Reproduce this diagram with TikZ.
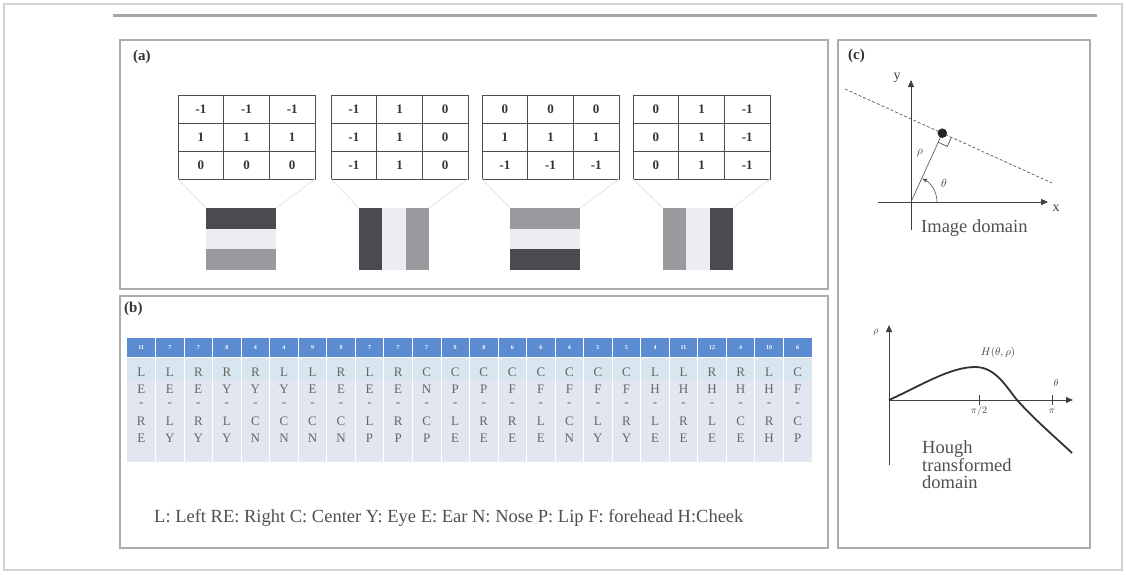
\documentclass[tikz,border=0pt]{standalone}
\usepackage{fontspec}
\setmainfont{Liberation Serif}
\usetikzlibrary{arrows.meta}
\definecolor{hdr}{HTML}{5B8BD0}
\definecolor{rowa}{HTML}{D8E7EF}
\definecolor{rowb}{HTML}{E2E6F1}
\definecolor{txt}{HTML}{505050}
\definecolor{dk}{HTML}{4A4A50}
\definecolor{md}{HTML}{9A9A9E}
\definecolor{lt}{HTML}{ECECF2}
\newcommand\kmat[5]{%
  \draw[gridln] (#1,95) rectangle ++(137,84);
  \foreach \i in {1,2} {\draw[gridln] (#1+\i*45.667,95) -- ++(0,84);
                        \draw[gridln] (#1,95+\i*28) -- ++(137,0);}
  \foreach \v [count=\c] in {#3} \node[num] (#2-1-\c) at (#1+\c*45.667-22.83,109) {\v};
  \foreach \v [count=\c] in {#4} \node[num] (#2-2-\c) at (#1+\c*45.667-22.83,137) {\v};
  \foreach \v [count=\c] in {#5} \node[num] (#2-3-\c) at (#1+\c*45.667-22.83,165) {\v};
}
\begin{document}
\begin{tikzpicture}[x=1pt,y=-1pt,
  panel/.style={draw=gray!65,line width=1.2pt},
  gridln/.style={draw=black!70,line width=0.8pt},
  num/.style={font=\fontsize{13}{13}\selectfont\bfseries,text=black!80,inner sep=0pt},
  fan/.style={draw=gray!25,line width=0.6pt},
  plabel/.style={font=\fontsize{15}{15}\selectfont\bfseries,text=black!80,anchor=west,inner sep=0pt},
  hnum/.style={font=\fontsize{6}{6}\selectfont\bfseries,text=white,inner sep=0pt},
  let/.style={font=\fontsize{13}{13}\selectfont,text=black!60,inner sep=0pt},
  lbl/.style={font=\fontsize{18.5}{17}\selectfont,text=txt,inner sep=0pt},
  axis/.style={draw=black!75,line width=0.8pt,-{Triangle[length=7pt,width=6pt]}},
  sym/.style={text=black!75,inner sep=0pt}]
\useasboundingbox (0,0) rectangle (1126,574);
\fill[white] (0,0) rectangle (1126,574);
% outer frame and top rule
\draw[gray!35,line width=2pt] (4,4) rectangle (1122,570);
\draw[gray!70,line width=3pt] (113,15) -- (1097,15);
% panels
\draw[panel] (120,40) rectangle (828,289);
\draw[panel] (120,296) rectangle (828,548);
\draw[panel] (838,40) rectangle (1090,548);
\node[plabel] (la) at (133,57) {(a)};
\node[plabel] (lb) at (124,309) {(b)};
\node[plabel] (lc) at (848,56) {(c)};
% ---- (a) kernels
\kmat{178}{ma}{-1,-1,-1}{1,1,1}{0,0,0}
\kmat{331}{mb}{-1,1,0}{-1,1,0}{-1,1,0}
\kmat{482}{mc}{0,0,0}{1,1,1}{-1,-1,-1}
\kmat{633}{md}{0,1,-1}{0,1,-1}{0,1,-1}
% fans
\foreach \mx/\ix in {178/206,331/359,482/510,633/663} {
  \draw[fan] (\mx,179) -- (\ix,208);
  \draw[fan] (\mx+137,179) -- (\ix+70,208);
}
% stripe images
\fill[dk] (206,208) rectangle (276,228.7);
\fill[lt] (206,228.7) rectangle (276,249.3);
\fill[md] (206,249.3) rectangle (276,270);
\fill[dk] (359,208) rectangle (382.3,270);
\fill[lt] (382.3,208) rectangle (405.7,270);
\fill[md] (405.7,208) rectangle (429,270);
\fill[md] (510,208) rectangle (580,228.7);
\fill[lt] (510,228.7) rectangle (580,249.3);
\fill[dk] (510,249.3) rectangle (580,270);
\fill[md] (663,208) rectangle (686.3,270);
\fill[lt] (686.3,208) rectangle (709.7,270);
\fill[dk] (709.7,208) rectangle (733,270);
% ---- (b) table
\fill[hdr] (127,338) rectangle (812,357);
\fill[rowa] (127,357) rectangle (812,381);
\fill[rowb] (127,381) rectangle (812,462);
\foreach \i in {1,...,23} \draw[white,line width=0.8pt] (127+\i*28.54,338) -- (127+\i*28.54,462);
\draw[white,line width=0.6pt] (127,357) -- (812,357);
\foreach \n [count=\c] in {11,7,7,8,4,4,9,9,7,7,7,9,8,6,6,4,5,5,4,11,12,4,10,6}
  \node[hnum] (h\c) at (127+\c*28.54-14.27,347.5) {\n};
\foreach \a/\b/\p/\q [count=\c] in {L/E/R/E,L/E/L/Y,R/E/R/Y,R/Y/L/Y,R/Y/C/N,L/Y/C/N,L/E/C/N,R/E/C/N,
    L/E/L/P,R/E/R/P,C/N/C/P,C/P/L/E,C/P/R/E,C/F/R/E,C/F/L/E,C/F/C/N,
    C/F/L/Y,C/F/R/Y,L/H/L/E,L/H/R/E,R/H/L/E,R/H/C/E,L/H/R/H,C/F/C/P} {
  \node[let] (t\c a) at (127+\c*28.54-14.27,372) {\a};
  \node[let] (t\c b) at (127+\c*28.54-14.27,389) {\b};
  \node[let] (t\c c) at (127+\c*28.54-14.27,405) {-};
  \node[let] (t\c d) at (127+\c*28.54-14.27,421) {\p};
  \node[let] (t\c e) at (127+\c*28.54-14.27,438) {\q};
}
\node[lbl,anchor=west] (legend) at (154,518) {L: Left RE: Right C: Center Y: Eye E: Ear N: Nose P: Lip F: forehead H:Cheek};
% ---- (c) image domain
\coordinate (o1) at (911,202);
\coordinate (xs) at (878,202);
\coordinate (xe) at (1048,202);
\coordinate (ys) at (911,230);
\coordinate (ye) at (911,80);
\draw[axis] (xs) -- (xe);
\draw[axis] (ys) -- (ye);
\node[sym,font=\fontsize{14}{14}\selectfont] (ylab) at (897,78) {y};
\node[sym,font=\fontsize{14}{14}\selectfont] (xlab) at (1056,208) {x};
\coordinate (d1) at (845,89);
\coordinate (d2) at (1052,183);
\draw[black!65,dashed,line width=0.7pt,dash pattern=on 3pt off 2pt] (d1) -- (d2);
\coordinate (ft) at (942.3,133.2);
\draw[black!70,line width=0.6pt] (o1) -- (ft);
\draw[black!70,line width=0.7pt] (951.4,137.3) -- (947.3,146.4) -- (938.2,142.3);
\fill[black!85] (ft) circle (4.8);
\draw[black!70,line width=0.6pt,-{Stealth[length=5pt,width=4pt]}] (937,202) arc[start angle=0,end angle=-64,radius=26];
\node[sym,font=\fontsize{12}{12}\selectfont] (rho1) at (920,153) {$\rho$};
\node[sym,font=\fontsize{12}{12}\selectfont] (th1) at (944,183) {$\theta$};
\node[lbl,anchor=west] (imd) at (921,228) {Image domain};
% ---- (c) Hough domain
\coordinate (o2) at (889,400);
\coordinate (ps) at (889,465);
\coordinate (pe) at (889,325);
\coordinate (te) at (1073,400);
\draw[axis] (ps) -- (pe);
\draw[axis] (o2) -- (te);
\draw[black!75,line width=0.6pt] (979,395) -- (979,405);
\draw[black!75,line width=0.6pt] (1052,395) -- (1052,405);
\node[sym,font=\fontsize{10}{10}\selectfont] (pi2) at (979,411) {$\pi/2$};
\node[sym,font=\fontsize{10}{10}\selectfont] (pi1) at (1052,411) {$\pi$};
\node[sym,font=\fontsize{10}{10}\selectfont] (th2) at (1056,383) {$\theta$};
\node[sym,font=\fontsize{10}{10}\selectfont] (rho2) at (876,332) {$\rho$};
\node[sym,font=\fontsize{11}{11}\selectfont] (hlab) at (998,353) {$H(\theta,\rho)$};
\draw[black!80,line width=1.8pt] (o2) .. controls (920,386) and (950,367) .. (975,367)
  .. controls (995,367) and (1005,385) .. (1017,400)
  .. controls (1035,420) and (1055,437) .. (1072,453);
\node[lbl,anchor=north west,align=left] (hough) at (922,440) {Hough\\transformed\\domain};
\end{tikzpicture}
\end{document}
